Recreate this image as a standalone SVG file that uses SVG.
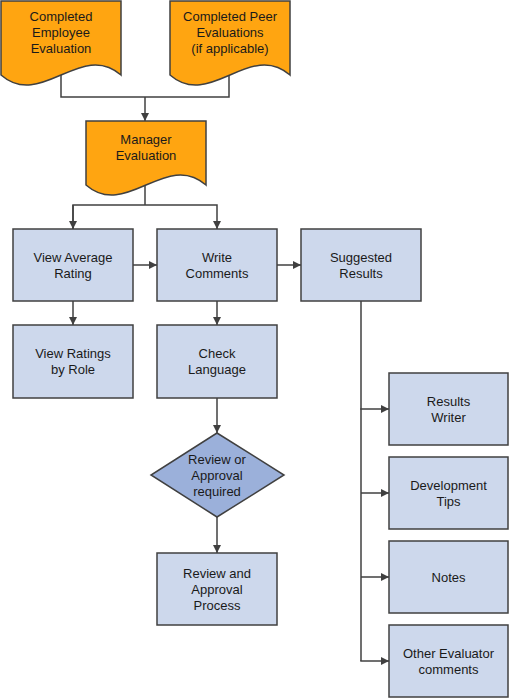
<svg xmlns="http://www.w3.org/2000/svg" width="510" height="699" viewBox="0 0 510 699">
<style>
.doc{fill:#FFA511;stroke:#404040;stroke-width:1.5}
.box{fill:#CDD8EC;stroke:#404040;stroke-width:1.5}
.dia{fill:#9BB0DA;stroke:#404040;stroke-width:1.5}
.ln{fill:none;stroke:#404040;stroke-width:1.5}
text{font-family:"Liberation Sans",Arial,sans-serif;font-size:13px;fill:#1a1a1a;text-anchor:middle}
</style>
<defs>
<marker id="ah" viewBox="0 0 10 10" refX="10" refY="5" markerWidth="8" markerHeight="8" markerUnits="userSpaceOnUse" orient="auto">
<path d="M0,0 L10,5 L0,10 z" fill="#404040"/>
</marker>
</defs>
<rect width="510" height="699" fill="#ffffff"/>
<g id="connectors">
<polyline class="ln" points="61,75 61,97 229,97 229,75"/>
<line class="ln" x1="145" y1="97" x2="145" y2="121" marker-end="url(#ah)"/>
<line class="ln" x1="145" y1="185" x2="145" y2="205"/>
<polyline class="ln" points="73,229 73,205 217,205 217,229" marker-end="url(#ah)"/>
<line class="ln" x1="73" y1="205" x2="73" y2="229" marker-end="url(#ah)"/>
<line class="ln" x1="133" y1="265" x2="157" y2="265" marker-end="url(#ah)"/>
<line class="ln" x1="277" y1="265" x2="301" y2="265" marker-end="url(#ah)"/>
<line class="ln" x1="73" y1="301" x2="73" y2="325" marker-end="url(#ah)"/>
<line class="ln" x1="217" y1="301" x2="217" y2="325" marker-end="url(#ah)"/>
<line class="ln" x1="217" y1="398" x2="217" y2="433" marker-end="url(#ah)"/>
<line class="ln" x1="217" y1="517" x2="217" y2="553" marker-end="url(#ah)"/>
<line class="ln" x1="361" y1="301" x2="361" y2="661"/>
<line class="ln" x1="360.25" y1="409" x2="389" y2="409" marker-end="url(#ah)"/>
<line class="ln" x1="361" y1="493" x2="389" y2="493" marker-end="url(#ah)"/>
<line class="ln" x1="361" y1="577" x2="389" y2="577" marker-end="url(#ah)"/>
<line class="ln" x1="360.25" y1="661" x2="389" y2="661" marker-end="url(#ah)"/>
</g>
<g id="doc-employee">
<path class="doc" d="M1,1 H121 V75 C81,40 41,110 1,75 Z"/>
<text x="61" y="21">Completed</text>
<text x="61" y="37">Employee</text>
<text x="61" y="53">Evaluation</text>
</g>
<g id="doc-peer">
<path class="doc" d="M170,1 H290 V75 C250,40 210,110 170,75 Z"/>
<text x="230" y="21">Completed Peer</text>
<text x="230" y="37">Evaluations</text>
<text x="230" y="53">(if applicable)</text>
</g>
<g id="doc-manager">
<path class="doc" d="M86,121 H206 V185 C166,150 126,220 86,185 Z"/>
<text x="146" y="144">Manager</text>
<text x="146" y="160">Evaluation</text>
</g>
<g id="view-average">
<rect class="box" x="13" y="229" width="120" height="72"/>
<text x="73" y="261.5">View Average</text>
<text x="73" y="277.5">Rating</text>
</g>
<g id="write-comments">
<rect class="box" x="157" y="229" width="120" height="72"/>
<text x="217" y="261.5">Write</text>
<text x="217" y="277.5">Comments</text>
</g>
<g id="suggested-results">
<rect class="box" x="301" y="229" width="120" height="72"/>
<text x="361" y="261.5">Suggested</text>
<text x="361" y="277.5">Results</text>
</g>
<g id="view-ratings-role">
<rect class="box" x="13" y="325" width="120" height="73"/>
<text x="73" y="357.5">View Ratings</text>
<text x="73" y="373.5">by Role</text>
</g>
<g id="check-language">
<rect class="box" x="157" y="325" width="120" height="73"/>
<text x="217" y="357.5">Check</text>
<text x="217" y="373.5">Language</text>
</g>
<g id="review-decision">
<polygon class="dia" points="217,433 284,475 217,517 151,475"/>
<text x="217" y="463.5">Review or</text>
<text x="217" y="479.5">Approval</text>
<text x="217" y="495.5">required</text>
</g>
<g id="review-process">
<rect class="box" x="157" y="553" width="120" height="72"/>
<text x="217" y="577.5">Review and</text>
<text x="217" y="593.5">Approval</text>
<text x="217" y="609.5">Process</text>
</g>
<g id="results-writer">
<rect class="box" x="389" y="373" width="119" height="72"/>
<text x="448.5" y="405.5">Results</text>
<text x="448.5" y="421.5">Writer</text>
</g>
<g id="development-tips">
<rect class="box" x="389" y="457" width="119" height="72"/>
<text x="448.5" y="489.5">Development</text>
<text x="448.5" y="505.5">Tips</text>
</g>
<g id="notes">
<rect class="box" x="389" y="541" width="119" height="72"/>
<text x="448.5" y="581.5">Notes</text>
</g>
<g id="other-evaluator">
<rect class="box" x="389" y="625" width="119" height="72"/>
<text x="448.5" y="657.5">Other Evaluator</text>
<text x="448.5" y="673.5">comments</text>
</g>
</svg>
